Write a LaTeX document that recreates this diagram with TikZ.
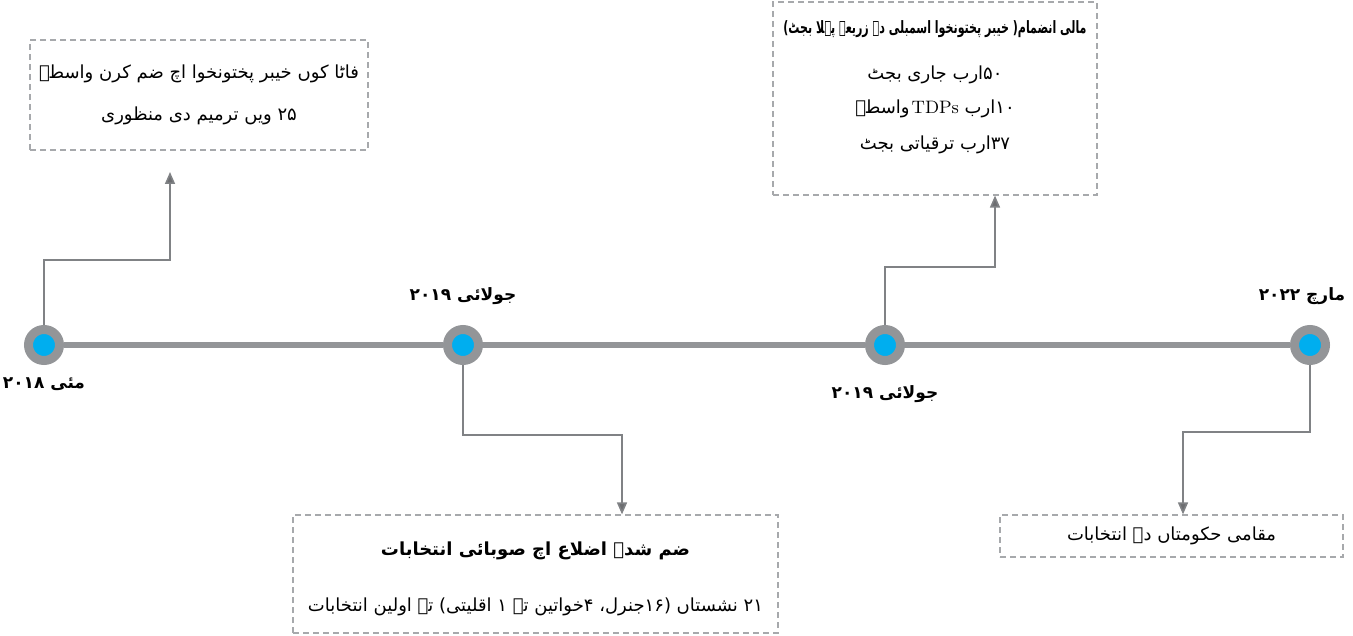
\documentclass[tikz,border=0pt]{standalone}
\usepackage{fontspec}
\usetikzlibrary{positioning,arrows.meta}
\TeXXeTstate=1
\newfontfamily\urdu[Script=Arabic]{DejaVu Sans}
\definecolor{trackgray}{HTML}{939598}
\definecolor{dotblue}{HTML}{00AEEF}
\definecolor{linkgray}{HTML}{808285}
\definecolor{tipgray}{HTML}{6D6E71}
\definecolor{boxgray}{HTML}{A7A9AC}

\begin{document}
\begin{tikzpicture}[x=0.5pt,y=-0.5pt,
  milestone/.style={circle,draw=trackgray,fill=dotblue,line width=4.5pt,minimum size=15.5pt,inner sep=0pt},
  track/.style={draw=trackgray,line width=3.2pt},
  link/.style={draw=linkgray,line width=0.8pt,-{Triangle[length=6pt,width=5pt,fill=tipgray]}},
  event/.style={draw=boxgray,dashed,dash pattern=on 3pt off 2pt,line width=0.6pt,inner sep=0pt,align=center,font=\urdu\fontsize{9}{12}\selectfont},
  datelabel/.style={font=\urdu\bfseries\fontsize{8.5}{10}\selectfont,inner sep=0pt}]
  \useasboundingbox (0,0) rectangle (1353,636);
  % milestones on the line
  \node[milestone] (m1) at (44,345) {};
  \node[milestone] (m2) at (463,345) {};
  \node[milestone] (m3) at (885,345) {};
  \node[milestone] (m4) at (1310,345) {};
  \draw[track] (m1) -- (m2) -- (m3) -- (m4);
  \node[datelabel,below=6pt of m1] (d1) {\beginR مئی ۲۰۱۸\endR};
  \node[datelabel,above=10pt of m2] (d2) {\beginR جولائی ۲۰۱۹\endR};
  \node[datelabel,below=10pt of m3] (d3) {\beginR جولائی ۲۰۱۹\endR};
  \node[datelabel,above=10pt of m4,xshift=-4pt] (d4) {\beginR مارچ ۲۰۲۲\endR};
  % events
  \node[event,minimum width=169pt,minimum height=55pt] (b1) at (199,95)
    {\beginR فاٹا کوں خیبر پختونخوا اچ ضم کرن واسطے\endR\\[9pt]
     \beginR ۲۵ ویں ترمیم دی منظوری\endR};
  \node[event,minimum width=162pt,minimum height=96.5pt,text depth=13pt] (b2) at (935,98.5)
    {\scalebox{0.65}[1]{\bfseries\fontsize{8.5}{10}\selectfont\beginR مالی انضمام( خیبر پختونخوا اسمبلی دے زریعے پہلا بجٹ)\endR}\\[11pt]
     \beginR ۵۰ارب جاری بجٹ\endR\\[5pt]
     \beginR ۱۰ارب {\rmfamily TDPs}\kern1pt واسطے\endR\\[6pt]
     \beginR ۳۷ارب ترقیاتی بجٹ\endR};
  \node[event,minimum width=242.5pt,minimum height=59pt,text height=40pt] (b3) at (535.5,574)
    {{\bfseries\fontsize{9}{12}\selectfont\beginR ضم شدہ اضلاع اچ صوبائی انتخابات\endR}\\[16pt]
     \beginR ۲۱ نشستاں (۱۶جنرل، ۴خواتین تے ۱ اقلیتی) تے اولین انتخابات\endR};
  \node[event,minimum width=171.5pt,minimum height=21pt] (b4) at (1171.5,536)
    {\beginR مقامی حکومتاں دے انتخابات\endR};
  % connectors
  \coordinate (k1) at (170,260);
  \coordinate (t1) at (170,172);
  \coordinate (k2) at (622,435);
  \coordinate (k3) at (995,267);
  \coordinate (k4) at (1183,432);
  \draw[link] (m1) |- (k1) -- (t1);
  \draw[link] (m2) |- (k2) -- (k2 |- b3.north);
  \draw[link] (m3) |- (k3) -- (k3 |- b2.south);
  \draw[link] (m4) |- (k4) -- (k4 |- b4.north);
\end{tikzpicture}
\end{document}
